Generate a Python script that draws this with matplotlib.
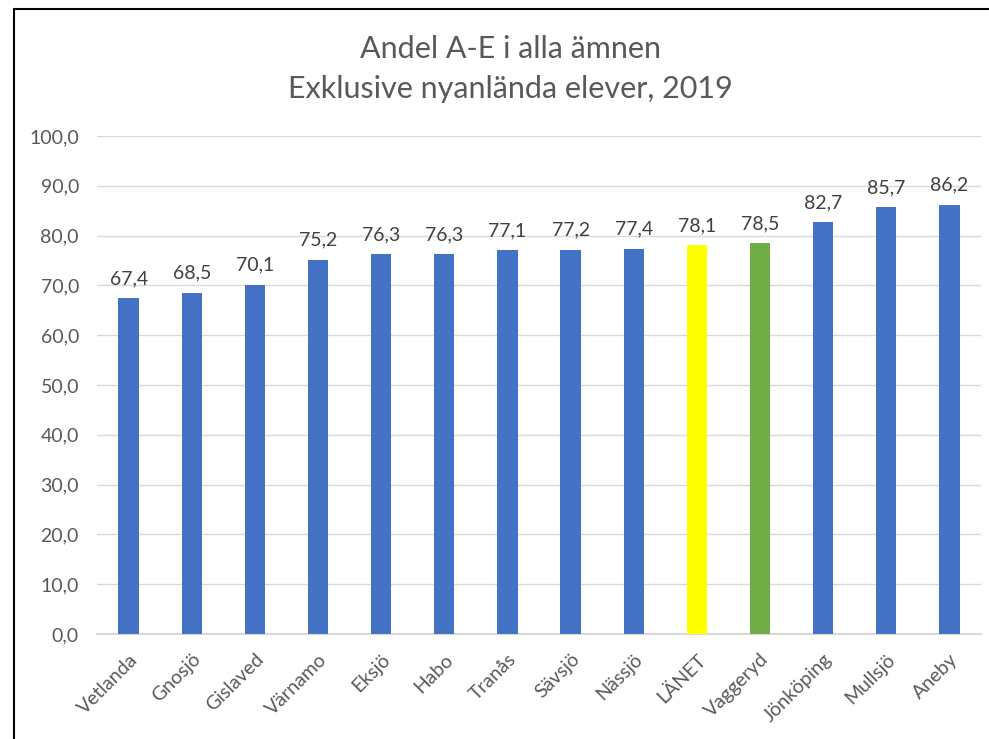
import matplotlib
matplotlib.use("Agg")
import matplotlib.pyplot as plt
from matplotlib.patches import Rectangle

categories = ["Vetlanda", "Gnosjö", "Gislaved", "Värnamo", "Eksjö", "Habo", "Tranås",
              "Sävsjö", "Nässjö", "LÄNET", "Vaggeryd", "Jönköping", "Mullsjö", "Aneby"]
values = [67.4, 68.5, 70.1, 75.2, 76.3, 76.3, 77.1, 77.2, 77.4, 78.1, 78.5, 82.7, 85.7, 86.2]
colors = ["#4472C4"] * 9 + ["#FFFF00", "#70AD47"] + ["#4472C4"] * 3
yticks = [0, 10, 20, 30, 40, 50, 60, 70, 80, 90, 100]
title = "Andel A-E i alla ämnen\nExklusive nyanlända elever, 2019"

plt.rcParams['font.family'] = ['Lato', 'DejaVu Sans']

fig = plt.figure(figsize=(9.89, 7.39), dpi=100)
ax = fig.add_axes([97/989, 1 - 634/739, (981-97)/989, (634-136)/739])

x = list(range(len(categories)))
bars = ax.bar(x, values, width=0.32, color=colors, zorder=3)
ax.set_xlim(-0.5, len(categories) - 0.5)
ax.set_ylim(0, 100)
ax.set_yticks(yticks)
ax.set_yticklabels([f"{v:.1f}".replace(".", ",") for v in yticks], fontsize=14, color="#595959")
ax.set_xticks(x)
ax.set_xticklabels(categories, rotation=45, ha="right", rotation_mode="anchor",
                   fontsize=14, color="#595959")
ax.tick_params(axis="both", length=0)
ax.tick_params(axis="y", pad=13)
ax.tick_params(axis="x", pad=12)
ax.grid(axis="y", color="#D9D9D9", linewidth=1, zorder=0)
for s in ["top", "right", "left"]:
    ax.spines[s].set_visible(False)
ax.spines["bottom"].set_color("#D9D9D9")
ax.spines["bottom"].set_linewidth(1.5)

for xi, v in zip(x, values):
    ax.annotate(f"{v:.1f}".replace(".", ","), (xi, v), xytext=(0, 8), textcoords="offset points",
                ha="center", va="bottom", fontsize=14, color="#404040")

fig.text(510/989, 1 - 69/739, title, ha="center", va="center", fontsize=22,
         color="#595959", linespacing=1.5)

# outer chart frame (cropped at right/bottom)
fig.patches.append(Rectangle((14/989, -0.05), 1.1, 1 - 9/739 + 0.05, transform=fig.transFigure,
                             fill=False, edgecolor="black", linewidth=1.5))

fig.savefig("out.png", dpi=100)
